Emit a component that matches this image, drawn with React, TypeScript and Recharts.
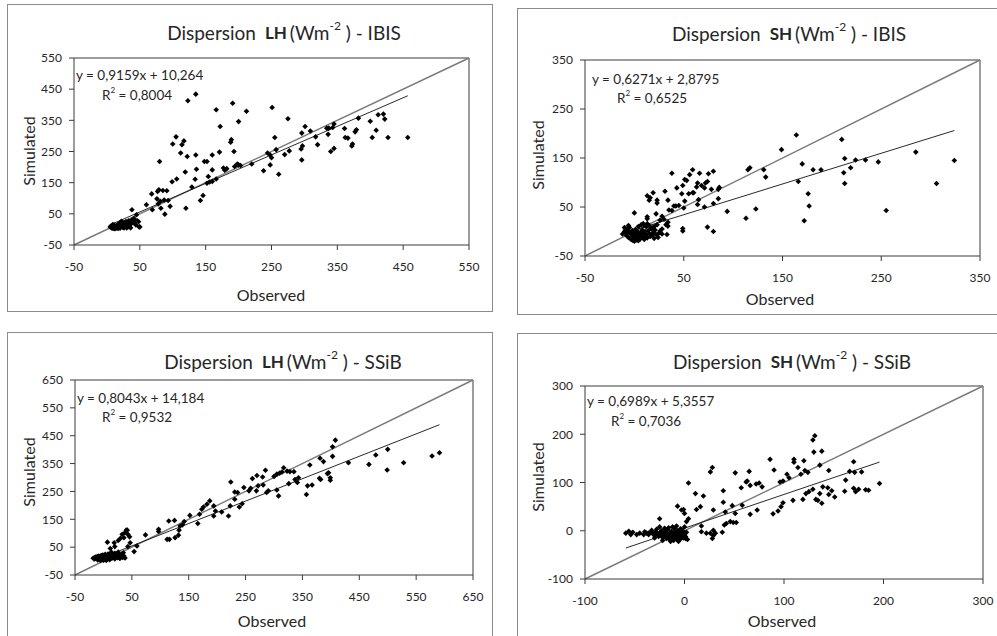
import React from 'react';
import { ScatterChart, Scatter, XAxis, YAxis, ReferenceLine } from 'recharts';

type Pt = [number, number];

const LH_IBIS: Pt[] = [
  [5, 8], [6, 10], [7, 5], [8, 12], [8, 7], [9, 4], [10, 9], [11, 14], [12, 6], [12, 11], [13, 3], [14, 8], [15, 13], [15, 5],
  [16, 10], [17, 15], [18, 7], [18, 18], [19, 12], [20, 4], [20, 9], [21, 16], [22, 20], [23, 11], [24, 7], [25, 14], [26, 22],
  [27, 18], [28, 10], [29, 25], [30, 15], [31, 20], [32, 8], [33, 27], [34, 12], [35, 22], [36, 5], [37, 18], [38, 30], [40, 25],
  [42, 20], [44, 14], [46, 28], [50, 8], [41, 35], [30, 5], [26, 5], [22, 26], [17, 3], [11, 2], [9, 16],
  [135, 434], [123, 413], [191, 405], [166, 384], [251, 391], [212, 379], [275, 355], [172, 330], [200, 346], [105, 297],
  [100, 274], [114, 272], [117, 284], [112, 245], [80, 218], [122, 234], [135, 239], [148, 218], [152, 218], [160, 239],
  [171, 248], [189, 288], [188, 280], [193, 250], [160, 191], [136, 193], [119, 184], [106, 162], [99, 153], [134, 161],
  [177, 197], [179, 190], [154, 170], [156, 152], [152, 148], [160, 154], [166, 162], [129, 136], [146, 109], [142, 93],
  [120, 68], [87, 94], [96, 74], [88, 49], [93, 93], [76, 98], [77, 122], [68, 114], [78, 82], [82, 68], [81, 90], [79, 127],
  [85, 125], [91, 124], [69, 63], [60, 79], [38, 63], [45, 47], [49, 8], [43, 29], [48, 25],
  [457, 295], [427, 295], [403, 295], [420, 370], [412, 368], [400, 347], [422, 354], [409, 318], [382, 357], [379, 320],
  [377, 313], [372, 268], [373, 274], [362, 295], [366, 293], [361, 324], [345, 338], [343, 327], [337, 325], [334, 325],
  [336, 305], [345, 260], [340, 250], [320, 272], [317, 297], [309, 316], [301, 330], [296, 309], [297, 268], [295, 258],
  [296, 223], [277, 252], [261, 177], [255, 295], [257, 256], [248, 239], [248, 207], [244, 245], [238, 188], [220, 210],
  [200, 207], [198, 210], [194, 202], [270, 240], [250, 230], [203, 205], [182, 195],
];

const SH_IBIS: Pt[] = [
  [164, 197], [210, 188], [149, 167], [285, 162], [324, 145], [247, 142], [234, 146], [224, 146], [213, 149], [219, 130],
  [212, 120], [213, 98], [306, 98], [255, 43], [189, 126], [181, 126], [170, 138], [166, 102], [176, 77], [177, 52], [172, 22],
  [117, 130], [115, 126], [131, 126], [133, 111], [123, 46], [113, 27], [94, 41], [85, 86], [86, 90], [85, 67], [80, 57],
  [80, 123], [75, 118], [66, 119], [59, 126], [56, 116], [53, 104], [51, 106], [38, 119], [64, 99], [68, 94], [72, 99],
  [63, 91], [59, 79], [55, 77], [74, 102], [78, 86], [71, 89], [65, 65], [64, 55], [71, 50], [74, 9], [80, 0], [60, 79],
  [49, 94], [51, 62], [45, 53], [50, 48], [49, 6], [49, 1], [48, 77], [43, 89], [42, 52], [40, 52], [35, 44], [34, 64],
  [31, 82], [38, 43], [33, -6], [32, 14], [34, 19], [30, 25], [26, 23], [23, 64], [23, 58], [19, 79], [15, 64], [13, 73],
  [13, 30], [13, 26], [16, 69], [0, 38], [22, 36], [28, 31], [34, 11], [23, 14],
  [-12, -5], [-10, 0], [-9, 5], [-8, -8], [-7, 3], [-6, -12], [-5, -2], [-5, 8], [-4, -15], [-3, -6], [-2, 2], [-2, -18],
  [-1, -10], [0, -4], [0, -20], [1, 4], [1, -14], [2, -8], [2, -17], [3, 0], [3, -12], [4, -5], [4, -19], [5, -10], [6, -2],
  [6, -15], [7, -7], [8, 3], [8, -12], [9, -4], [10, -9], [10, -16], [11, 0], [12, -6], [13, -13], [14, 2], [15, -4],
  [16, -10], [17, 5], [18, -7], [19, -2], [20, -14], [21, 3], [22, -6], [24, -12], [25, -3], [-10, 8], [-8, -2], [-6, 12],
  [4, 10], [7, 14], [12, 10], [15, 12], [10, 12], [9, 16], [13, 16], [18, 7], [26, 1], [28, -5], [20, 10], [28, 5],
];

const LH_SSIB: Pt[] = [
  [408, 434], [403, 410], [403, 376], [381, 369], [387, 357], [363, 345], [500, 401], [479, 381], [467, 347], [431, 353],
  [528, 353], [499, 327], [578, 377], [591, 389], [396, 317], [399, 299], [399, 290], [394, 314], [380, 297], [382, 293],
  [367, 273], [359, 270], [357, 239], [343, 299], [337, 293], [335, 321], [328, 321], [323, 323], [317, 335], [314, 320],
  [310, 316], [305, 312], [300, 304], [285, 326], [280, 302], [270, 307], [262, 296], [281, 273], [272, 270], [269, 252],
  [259, 261], [256, 252], [247, 264], [224, 284], [231, 248], [236, 246], [287, 246], [290, 252], [305, 255], [308, 234],
  [326, 278], [341, 282], [244, 206], [239, 194], [231, 222], [223, 198], [220, 162], [208, 176], [197, 180], [194, 162],
  [194, 198], [187, 216], [182, 204], [176, 194], [173, 186], [169, 168], [166, 135], [152, 164], [142, 142], [139, 130],
  [135, 126], [133, 111], [126, 84], [132, 93], [125, 146], [115, 144], [112, 78], [116, 78], [97, 114], [97, 106], [74, 94],
  [59, 54], [54, 34], [47, 66], [43, 52], [40, 111], [36, 84], [33, 96], [26, 74], [7, 68], [19, 66], [20, 52], [12, 45],
  [42, 111], [38, 102], [43, 96], [46, 87], [30, 82],
  [-18, 10], [-16, 12], [-15, 8], [-14, 14], [-12, 10], [-11, 16], [-10, 7], [-9, 13], [-8, 18], [-7, 9], [-6, 15], [-5, 11],
  [-4, 20], [-3, 7], [-2, 14], [-1, 22], [0, 10], [1, 17], [2, 6], [3, 24], [4, 12], [5, 19], [6, 8], [7, 15], [8, 25],
  [9, 11], [10, 20], [11, 5], [12, 16], [13, 28], [15, 10], [16, 22], [18, 14], [20, 8], [22, 18], [24, 26], [25, 12],
  [27, 20], [29, 9], [30, 15], [32, 24], [34, 13], [35, 30], [36, 18], [38, 11], [-10, 4], [-5, 2], [0, 3], [5, 2], [14, 32],
  [20, 28], [26, 32],
];

const SH_SSIB: Pt[] = [
  [131, 197], [129, 188], [130, 163], [138, 165], [86, 148], [110, 148], [110, 142], [120, 145], [170, 143], [136, 136],
  [114, 131], [121, 125], [124, 121], [145, 125], [90, 126], [65, 123], [51, 120], [28, 131], [26, 122], [4, 99], [103, 117],
  [105, 110], [99, 103], [62, 101], [63, 103], [66, 94], [72, 97], [75, 99], [78, 91], [57, 89], [39, 83], [11, 77], [19, 72],
  [39, 59], [48, 52], [12, 44], [16, 50], [29, 43], [41, 39], [58, 53], [66, 34], [73, 43], [89, 35], [94, 41], [97, 50],
  [99, 58], [109, 63], [119, 65], [122, 77], [125, 81], [129, 86], [136, 77], [139, 91], [144, 89], [145, 75], [148, 83],
  [151, 70], [132, 65], [134, 63], [138, 57], [161, 82], [162, 105], [166, 123], [171, 121], [170, 88], [172, 81], [175, 86],
  [182, 85], [185, 84], [196, 98], [178, 122], [117, 117], [96, 101], [51, 36], [40, 12], [42, 15], [46, 19], [49, 17],
  [52, 17], [17, 10], [17, -2], [22, -5], [26, -5], [29, -10], [31, -5], [38, -3], [29, 1], [28, -16], [4, 25], [0, 36],
  [-3, 43], [-7, 51], [-1, 44], [2, 19], [-25, 25], [-56, -1], [-54, -8], [-59, -5], [-41, -8], [-36, -5], [1, -16],
  [-38, -5], [-36, -8], [-34, -3], [-32, -6], [-30, -10], [-29, -2], [-27, -7], [-26, -12], [-25, -4], [-24, -9], [-23, 0],
  [-22, -14], [-21, -6], [-20, -11], [-19, -3], [-18, -16], [-18, -8], [-17, 2], [-16, -13], [-15, -5], [-15, -18],
  [-14, -10], [-13, -1], [-13, -15], [-12, -7], [-11, -20], [-11, -12], [-10, -3], [-10, 5], [-9, -9], [-9, -16], [-8, -5],
  [-8, -13], [-7, 0], [-7, -19], [-6, -8], [-6, -14], [-5, -2], [-5, -11], [-4, -17], [-4, 4], [-3, -6], [-3, -13], [-2, -9],
  [-2, 0], [-1, -4], [-1, -15], [0, -7], [0, 8], [1, -12], [2, -3], [3, -18], [-20, 5], [-25, 8], [-16, 6], [-12, 8],
  [-8, 10], [-30, -15], [-45, -5], [-48, -8], [-52, -3], [-22, -20], [-14, -22], [-6, -22], [-28, 3], [-33, 1], [-40, -2],
];

const TICKS_LH_IBIS = [-50, 50, 150, 250, 350, 450, 550];
const TICKS_SH_IBIS = [-50, 50, 150, 250, 350];
const TICKS_LH_SSIB = [-50, 50, 150, 250, 350, 450, 550, 650];
const TICKS_SH_SSIB = [-100, 0, 100, 200, 300];

const FIT_LH_IBIS = { slope: 0.9159, intercept: 10.264, eq: 'y = 0,9159x + 10,264', r2: '0,8004' };
const FIT_SH_IBIS = { slope: 0.6271, intercept: 2.8795, eq: 'y = 0,6271x + 2,8795', r2: '0,6525' };
const FIT_LH_SSIB = { slope: 0.8043, intercept: 14.184, eq: 'y = 0,8043x + 14,184', r2: '0,9532' };
const FIT_SH_SSIB = { slope: 0.6989, intercept: 5.3557, eq: 'y = 0,6989x + 5,3557', r2: '0,7036' };

const FONT = 'Lato, "Open Sans", sans-serif';
const TEXT = '#262626';
const Y_AXIS_W = 45;
const X_AXIS_H = 30;

type Panel = {
  key: string;
  data: Pt[];
  ticks: number[];
  fit: { slope: number; intercept: number; eq: string; r2: string };
  variable: string;
  model: string;
  box: { x0: number; y0: number; x1: number; y1: number };
  plot: { x0: number; y0: number; x1: number; y1: number };
  title: [number, number];
  simLabel: [number, number];
  obsLabel: [number, number];
  eqPos: [number, number];
  r2Pos: [number, number];
};

const PANELS: Panel[] = [
  {
    key: 'lhIbis', data: LH_IBIS, ticks: TICKS_LH_IBIS, fit: FIT_LH_IBIS, variable: 'LH', model: 'IBIS',
    box: { x0: 7, y0: 4, x1: 493, y1: 312 }, plot: { x0: 74, y0: 58, x1: 469, y1: 245 },
    title: [284, 32], simLabel: [28, 151], obsLabel: [271, 294], eqPos: [76, 75], r2Pos: [102, 95],
  },
  {
    key: 'shIbis', data: SH_IBIS, ticks: TICKS_SH_IBIS, fit: FIT_SH_IBIS, variable: 'SH', model: 'IBIS',
    box: { x0: 517, y0: 8, x1: 1010, y1: 315 }, plot: { x0: 585, y0: 60, x1: 980, y1: 256 },
    title: [789, 33], simLabel: [537, 155], obsLabel: [780, 298], eqPos: [592, 79], r2Pos: [617, 98],
  },
  {
    key: 'lhSsib', data: LH_SSIB, ticks: TICKS_LH_SSIB, fit: FIT_LH_SSIB, variable: 'LH', model: 'SSiB',
    box: { x0: 7, y0: 332, x1: 493, y1: 645 }, plot: { x0: 75, y0: 380, x1: 473, y1: 575 },
    title: [283, 361], simLabel: [28, 472], obsLabel: [272, 620], eqPos: [77, 398], r2Pos: [102, 417],
  },
  {
    key: 'shSsib', data: SH_SSIB, ticks: TICKS_SH_SSIB, fit: FIT_SH_SSIB, variable: 'SH', model: 'SSiB',
    box: { x0: 517, y0: 333, x1: 1010, y1: 645 }, plot: { x0: 585, y0: 386, x1: 983, y1: 579 },
    title: [792, 361], simLabel: [537, 477], obsLabel: [782, 620], eqPos: [587, 401], r2Pos: [611, 421],
  },
];

const Diamond = (props: any) => {
  const { cx, cy } = props;
  if (cx == null || cy == null || isNaN(cx) || isNaN(cy)) return <g />;
  const r = 2.8;
  return <path d={`M${cx},${cy - r}L${cx + r},${cy}L${cx},${cy + r}L${cx - r},${cy}Z`} fill="#000" />;
};

function PanelChart({ p }: { p: Panel }) {
  const w = p.box.x1 - p.box.x0;
  const h = p.box.y1 - p.box.y0;
  const margin = {
    left: p.plot.x0 - p.box.x0 - Y_AXIS_W,
    top: p.plot.y0 - p.box.y0,
    right: p.box.x1 - p.plot.x1,
    bottom: p.box.y1 - p.plot.y1 - X_AXIS_H,
  };
  const lo = p.ticks[0];
  const hi = p.ticks[p.ticks.length - 1];
  const points = p.data.map(([x, y]) => ({ x, y }));
  const xs = p.data.map((d) => d[0]);
  const xMin = Math.min(...xs);
  const xMax = Math.max(...xs);
  const trend = [
    { x: xMin, y: p.fit.slope * xMin + p.fit.intercept },
    { x: xMax, y: p.fit.slope * xMax + p.fit.intercept },
  ];
  return (
    <div style={{ position: 'absolute', left: p.box.x0, top: p.box.y0, width: w, height: h }}>
      <ScatterChart width={w} height={h} margin={margin}>
        <XAxis
          type="number" dataKey="x" domain={[lo, hi]} ticks={p.ticks} interval={0} allowDataOverflow
          height={X_AXIS_H} tickSize={5} tickMargin={12}
          axisLine={{ stroke: '#3a3a3a' }} tickLine={{ stroke: '#3a3a3a' }}
          tick={{ fill: TEXT, fontSize: 12, fontFamily: FONT }}
        />
        <YAxis
          type="number" dataKey="y" domain={[lo, hi]} ticks={p.ticks} interval={0} allowDataOverflow
          width={Y_AXIS_W} tickSize={5} tickMargin={7}
          axisLine={{ stroke: '#3a3a3a' }} tickLine={{ stroke: '#3a3a3a' }}
          tick={{ fill: TEXT, fontSize: 12, fontFamily: FONT }}
        />
        <ReferenceLine y={hi} stroke="#3a3a3a" strokeWidth={1} ifOverflow="visible" />
        <ReferenceLine x={hi} stroke="#3a3a3a" strokeWidth={1} ifOverflow="visible" />
        <ReferenceLine
          segment={[{ x: lo, y: lo }, { x: hi, y: hi }]}
          stroke="#7a7a7a" strokeWidth={1.4} ifOverflow="visible"
        />
        <ReferenceLine segment={trend} stroke="#111" strokeWidth={0.9} ifOverflow="visible" />
        <Scatter data={points} shape={Diamond} isAnimationActive={false} />
      </ScatterChart>
    </div>
  );
}

function PanelTexts({ p }: { p: Panel }) {
  return (
    <g fontFamily={FONT} fill={TEXT}>
      <text x={p.title[0]} y={p.title[1]} textAnchor="middle" dominantBaseline="central" fontSize={19}>
        <tspan>Dispersion</tspan>
        <tspan fontWeight="bold" fontSize={17} dx={9}>{p.variable}</tspan>
        <tspan dx={3}>(Wm</tspan>
        <tspan fontSize={12} dy={-7}>-2</tspan>
        <tspan dy={7}> ) - {p.model}</tspan>
      </text>
      <text
        x={p.simLabel[0]} y={p.simLabel[1]} textAnchor="middle" dominantBaseline="central" fontSize={16}
        transform={`rotate(-90 ${p.simLabel[0]} ${p.simLabel[1]})`}
      >
        Simulated
      </text>
      <text x={p.obsLabel[0]} y={p.obsLabel[1]} textAnchor="middle" dominantBaseline="central" fontSize={16}>
        Observed
      </text>
      <text x={p.eqPos[0]} y={p.eqPos[1]} dominantBaseline="central" fontSize={13.5}>
        {p.fit.eq}
      </text>
      <text x={p.r2Pos[0]} y={p.r2Pos[1]} dominantBaseline="central" fontSize={13.5}>
        <tspan>R</tspan>
        <tspan fontSize={8} dy={-5}>2</tspan>
        <tspan dy={5}> = {p.fit.r2}</tspan>
      </text>
    </g>
  );
}

export default function App() {
  return (
    <div
      style={{
        position: 'absolute', left: 0, top: 0, width: 997, height: 636, overflow: 'hidden',
        background: '#fff', fontFamily: FONT,
      }}
    >
      {PANELS.map((p) => (
        <div
          key={p.key + '-box'}
          style={{
            position: 'absolute', left: p.box.x0, top: p.box.y0,
            width: p.box.x1 - p.box.x0, height: p.box.y1 - p.box.y0,
            border: '1px solid #8a8a8a', boxSizing: 'border-box',
          }}
        />
      ))}
      {PANELS.map((p) => (
        <PanelChart key={p.key} p={p} />
      ))}
      <svg width={997} height={636} style={{ position: 'absolute', left: 0, top: 0, pointerEvents: 'none' }}>
        {PANELS.map((p) => (
          <PanelTexts key={p.key + '-t'} p={p} />
        ))}
      </svg>
    </div>
  );
}
